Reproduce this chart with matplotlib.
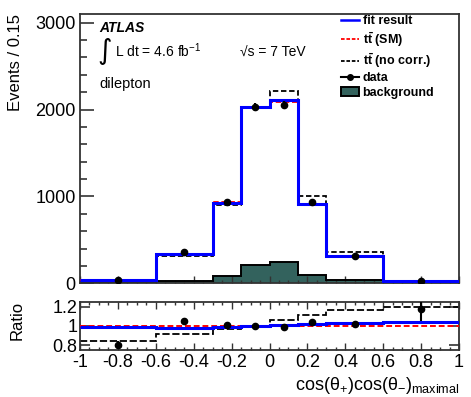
import numpy as np
import matplotlib
matplotlib.use("Agg")
import matplotlib.pyplot as plt
from matplotlib.lines import Line2D
from matplotlib.patches import Patch
from matplotlib.ticker import MultipleLocator, FixedLocator

plt.rcParams['font.family'] = ['Liberation Sans', 'DejaVu Sans']
plt.rcParams['mathtext.fontset'] = 'custom'
plt.rcParams['mathtext.rm'] = 'Liberation Sans'
plt.rcParams['mathtext.it'] = 'Liberation Sans:italic'
plt.rcParams['mathtext.bf'] = 'Liberation Sans:bold'

# ---- data ----
edges = [-1.0, -0.6, -0.3, -0.15, 0.0, 0.15, 0.3, 0.6, 1.0]
fit_result = [40, 335, 925, 2025, 2110, 915, 318, 25]
tt_sm = [41, 342, 934, 2035, 2090, 900, 309, 24]
tt_nocorr = [34, 313, 903, 2020, 2215, 1000, 355, 29]
data_vals = [35, 357, 940, 2030, 2050, 938, 310, 32]
data_err = [6, 18, 30, 45, 45, 30, 18, 6]
background = [5, 30, 85, 205, 240, 95, 35, 3]

ratio_fit = [0.985, 0.982, 0.99, 0.995, 1.007, 1.017, 1.03, 1.04]
ratio_nocorr = [0.84, 0.917, 0.967, 0.995, 1.067, 1.11, 1.167, 1.20]
ratio_data = [0.80, 1.05, 1.01, 1.0, 0.99, 1.044, 1.017, 1.18]
ratio_data_err = [0.04, 0.03, 0.02, 0.015, 0.015, 0.02, 0.03, 0.13]

xticks = [-1, -0.8, -0.6, -0.4, -0.2, 0, 0.2, 0.4, 0.6, 0.8, 1]
xticklabels = ['-1', '-0.8', '-0.6', '-0.4', '-0.2', '0', '0.2', '0.4', '0.6', '0.8', '1']

edges = np.array(edges)
centers = 0.5 * (edges[1:] + edges[:-1])

bg_color = '#33625d'
W, H = 471, 397
fig = plt.figure(figsize=(W / 100, H / 100), dpi=100)

def fx(px):
    return px / W

def fy(py):
    return 1 - py / H

ax = fig.add_axes([fx(80), fy(283.3), fx(459) - fx(80), fy(14) - fy(283.3)])
axr = fig.add_axes([fx(80), fy(350), fx(459) - fx(80), fy(302) - fy(350)])

# ---- main panel ----
ax.stairs(background, edges, fill=True, color=bg_color, zorder=1)
ax.stairs(background, edges, color='black', lw=1.4, baseline=None, zorder=2)
ax.stairs(tt_nocorr, edges, color='black', lw=1.3, ls=(0, (3, 1.5)), baseline=None, zorder=3)
ax.stairs(tt_sm, edges, color='#ff0000', lw=1.3, ls=(0, (3, 1.5)), baseline=None, zorder=4)
ax.stairs(fit_result, edges, color='#0000ff', lw=2.2, baseline=None, zorder=5)
ax.errorbar(centers, data_vals, yerr=data_err, fmt='o', color='black', ms=4.5,
            elinewidth=1.5, capsize=0, zorder=6)

ax.set_xlim(-1, 1)
ax.set_ylim(0, 3100)
ax.yaxis.set_major_locator(FixedLocator([0, 1000, 2000, 3000]))
ax.yaxis.set_minor_locator(MultipleLocator(200))
ax.xaxis.set_major_locator(FixedLocator(xticks))
ax.xaxis.set_minor_locator(MultipleLocator(0.05))
ax.set_xticklabels([])
ax.tick_params(axis='y', which='major', direction='in', length=10, width=1.2, labelsize=13, pad=3, colors='#333333', labelcolor='black')
ax.tick_params(axis='y', which='minor', direction='in', length=5, width=1.2, colors='#333333')
ax.tick_params(axis='x', which='major', direction='in', length=5, width=1.0, colors='#333333')
ax.tick_params(axis='x', which='minor', direction='in', length=2.5, width=1.0, colors='#333333')
for s in ax.spines.values():
    s.set_linewidth(1.3)
    s.set_color('#333333')

# annotations
ax.text(0.05, 0.933, 'ATLAS', transform=ax.transAxes, fontsize=10, fontweight='bold',
        fontstyle='italic', va='baseline', ha='left')
ax.text(0.045, 0.862, '\u222b', transform=ax.transAxes, fontsize=20, va='center', ha='left',
        family=['DejaVu Sans'])
ax.text(0.092, 0.84, 'L dt = 4.6 fb$^{-1}$', transform=ax.transAxes, fontsize=10,
        va='baseline', ha='left')
ax.text(0.422, 0.84, '\u221as = 7 TeV', transform=ax.transAxes, fontsize=10,
        va='baseline', ha='left')
ax.text(0.05, 0.725, 'dilepton', transform=ax.transAxes, fontsize=10.5,
        va='baseline', ha='left')

handles = [
    Line2D([], [], color='#0000ff', lw=1.8),
    Line2D([], [], color='#ff0000', lw=1.3, ls=(0, (2, 1))),
    Line2D([], [], color='black', lw=1.3, ls=(0, (2, 1))),
    Line2D([], [], color='black', lw=1.5, marker='o', ms=4),
    Patch(facecolor=bg_color, edgecolor='black', lw=1.4),
]
labels = ['fit result', r'$\mathbf{t\bar{t}}$ (SM)', r'$\mathbf{t\bar{t}}$ (no corr.)', 'data', 'background']
leg = ax.legend(handles, labels, loc='upper left', bbox_to_anchor=(0.688, 0.995),
                frameon=False, prop={'size': 9, 'weight': 'bold'}, borderpad=0,
                borderaxespad=0, handlelength=1.45, handletextpad=0.3, labelspacing=0.2)

# ---- ratio panel ----
axr.axhline(1.0, color='#ff0000', lw=1.4, ls=(0, (3, 1.5)), zorder=3)
axr.stairs(ratio_nocorr, edges, color='black', lw=1.3, ls=(0, (4, 1.5)), baseline=None, zorder=2)
axr.stairs(ratio_fit, edges, color='#0000ff', lw=2.2, baseline=None, zorder=4)
axr.errorbar(centers, ratio_data, yerr=ratio_data_err, fmt='o', color='black', ms=4.5,
             elinewidth=1.5, capsize=0, zorder=6)
axr.set_xlim(-1, 1)
axr.set_ylim(0.75, 1.25)
axr.yaxis.set_major_locator(FixedLocator([0.8, 1.0, 1.2]))
axr.set_yticklabels(['0.8', '1', '1.2'])
axr.xaxis.set_major_locator(FixedLocator(xticks))
axr.set_xticklabels(xticklabels)
axr.xaxis.set_minor_locator(MultipleLocator(0.05))
axr.tick_params(axis='y', which='major', direction='in', length=7, width=1.2, labelsize=13,
                pad=2, right=True, colors='#333333', labelcolor='black')
axr.tick_params(axis='x', which='major', direction='in', length=5, width=1.0, labelsize=13,
                pad=3, top=True, colors='#333333', labelcolor='black')
axr.tick_params(axis='x', which='minor', direction='in', length=2.5, width=1.0, top=True,
                colors='#333333')
for s in axr.spines.values():
    s.set_linewidth(1.3)
    s.set_color('#333333')

# ---- axis titles ----
fig.text(fx(16), fy(14), 'Events / 0.15', rotation=90, fontsize=12, ha='center', va='top')
fig.text(fx(17), fy(320), 'Ratio', rotation=90, fontsize=12, ha='center', va='center')
fig.text(fx(459), fy(390), 'cos(\u03b8$_{+}$)cos(\u03b8$_{-}$)$_{\\rm maximal}$',
         fontsize=13, ha='right', va='baseline')

fig.savefig('out.png', dpi=100)
